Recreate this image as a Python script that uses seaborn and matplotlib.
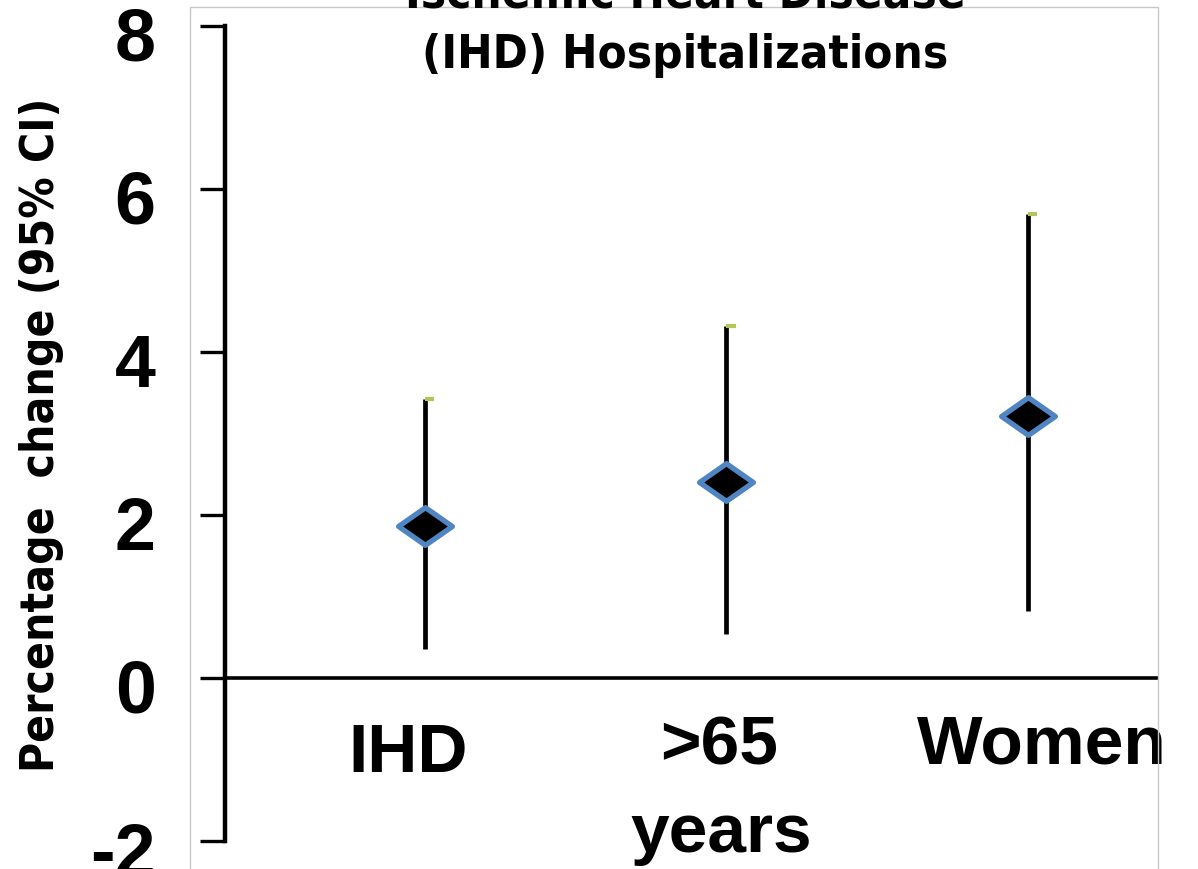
import matplotlib
matplotlib.use("Agg")
import matplotlib.pyplot as plt
import matplotlib.transforms as mtransforms
from matplotlib.path import Path
from matplotlib.patches import Rectangle
import seaborn as sns
import pandas as pd

# Percentage change in IHD hospitalizations with 95% confidence intervals
groups = ["IHD", ">65\nyears", "Women"]
estimate = [1.87, 2.40, 3.21]
ci_lower = [0.36, 0.54, 0.82]
ci_upper = [3.42, 4.32, 5.69]
y_ticks = [-2, 0, 2, 4, 6, 8]

df = pd.DataFrame({"group": groups, "pos": range(len(groups)),
                   "estimate": estimate, "lo": ci_lower, "hi": ci_upper})

sns.set_theme(style="white")
plt.rcParams["font.family"] = ["Liberation Sans", "DejaVu Sans"]
plt.rcParams["font.weight"] = "bold"
plt.rcParams["text.color"] = "black"
plt.rcParams["axes.labelcolor"] = "black"

W, H = 1198, 870
fig = plt.figure(figsize=(W / 100, H / 100), dpi=100)
ax = fig.add_axes([225 / W, 1 - 842 / H, (1158 - 225) / W, (842 - 27) / H])
ax.patch.set_alpha(0)

# light frame around the plotting panel
fig.patches.append(Rectangle((190 / W, -0.01), (1158 - 190) / W, 1 - 8 / H + 0.01,
                             transform=fig.transFigure, fill=False,
                             edgecolor="#c8c8c8", lw=1.0, zorder=0))

# confidence-interval whiskers
ax.vlines(df["pos"], df["lo"], df["hi"], color="black", lw=3.4, zorder=2)
# small cap at the upper limit
for x, hi in zip(df["pos"], df["hi"]):
    ax.plot([x, x + 0.03], [hi, hi], color="#b5c45a", lw=3, solid_capstyle="butt", zorder=3)

diamond = Path([(-1, 0), (0, 0.7), (1, 0), (0, -0.7), (-1, 0)],
               [Path.MOVETO, Path.LINETO, Path.LINETO, Path.LINETO, Path.CLOSEPOLY])
sns.scatterplot(data=df, x="pos", y="estimate", marker=diamond, s=1500,
                color="black", edgecolor="#5085c4", linewidth=3.8, zorder=4, ax=ax)

ax.axhline(0, color="black", lw=2.6, zorder=1)

ax.set_xlim(-0.663, 2.431)
ax.set_ylim(-2, 8)
ax.set_yticks(y_ticks)
ax.set_yticklabels([str(v) for v in y_ticks], fontsize=53, fontweight="bold")
ax.set_xticks([])
ax.set_xlabel("")
ax.set_ylabel("")

for side in ["top", "right", "bottom"]:
    ax.spines[side].set_visible(False)
ax.spines["left"].set_linewidth(3.2)
ax.spines["left"].set_color("black")
ax.tick_params(axis="y", direction="out", length=18, width=2.4, color="black",
               pad=32, left=True, labelcolor="black")

# nudge the tick numbers slightly below their ticks
shift = mtransforms.ScaledTranslation(0, -7 / 100, fig.dpi_scale_trans)
for lbl in ax.get_yticklabels():
    lbl.set_transform(lbl.get_transform() + shift)

# category labels below the zero line
lab = dict(ha="center", va="baseline", fontsize=50, fontweight="bold", clip_on=False)
ax.text(0 - 0.056, -1.14, "IHD", **lab)
ax.text(1 - 0.023, -1.05, ">65", **lab)
ax.text(1 - 0.017, -2.12, "years", **lab)
ax.text(2 + 0.045, -1.04, "Women", **lab)

narrow = ["Liberation Sans Narrow", "DejaVu Sans"]
fig.text(42 / W, 1 - 435 / H, "Percentage  change (95% CI)", rotation=90,
         ha="center", va="center", fontsize=33, fontweight="bold", family=narrow,
         fontstretch="condensed")
fig.text(685 / W, 1 + 5 / H, "Ischemic Heart Disease", ha="center", va="center",
         fontsize=34, fontweight="bold", family=narrow, fontstretch="condensed")
fig.text(685 / W, 1 - 55 / H, "(IHD) Hospitalizations", ha="center", va="center",
         fontsize=34, fontweight="bold", family=narrow, fontstretch="condensed")

fig.savefig("out.png", dpi=100, facecolor="white")
